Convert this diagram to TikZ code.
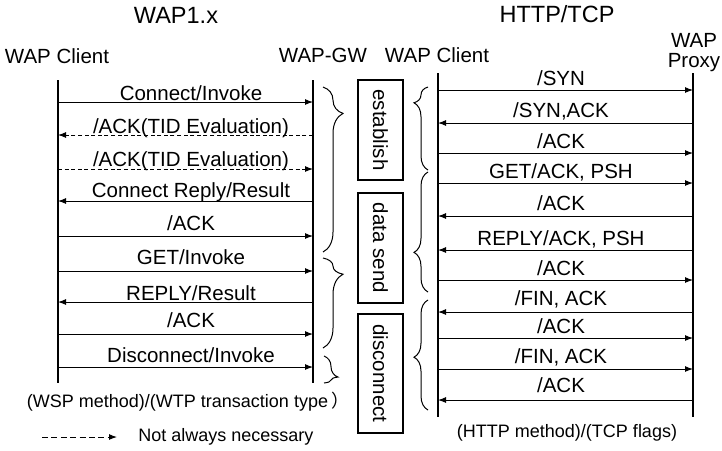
\documentclass[tikz,border=0pt]{standalone}
\usepackage{fontspec}
\setmainfont{Liberation Sans}
\newfontfamily\cjk{Noto Sans CJK SC}
\usetikzlibrary{arrows.meta, positioning, decorations.pathreplacing}

\begin{document}
\begin{tikzpicture}[x=0.5pt, y=-0.5pt,
>={Latex[length=4pt,width=3pt]},
lifeline/.style={draw=black, line width=0.65pt},
msg/.style={->, line width=0.5pt},
optmsg/.style={->, line width=0.5pt, dash pattern=on 2pt off 1.3pt},
msglabel/.style={anchor=base, inner sep=0pt, font=\fontsize{10.25}{12}\selectfont},
notelabel/.style={anchor=base, inner sep=0pt, font=\fontsize{9}{11}\selectfont},
headlabel/.style={anchor=base, inner sep=0pt, font=\fontsize{10.25}{10}\selectfont, align=center},
titlelabel/.style={anchor=base, inner sep=0pt, font=\fontsize{11.75}{14}\selectfont},
phasebox/.style={rectangle, draw=black, line width=0.6pt, rotate=-90, inner sep=0pt, font=\fontsize{10.25}{12}\selectfont, minimum height=22.5pt},
phasebrace/.style={decorate, line width=0.5pt},
]
\useasboundingbox (0,0) rectangle (722,450);

%Titles
\node[titlelabel] (T1) at (176,23) {WAP1.x};
\node[titlelabel] (T2) at (557,22) {HTTP/TCP};
\node[headlabel] (HC1) at (57,63) {WAP Client};
\node[headlabel] (HGW) at (323,62) {WAP-GW};
\node[headlabel] (HC2) at (437,62) {WAP Client};
\node[headlabel] (HPX) at (694,67) {WAP\\Proxy};

%Lifelines
\coordinate (WCa) at (58,80);  \coordinate (WCaEnd) at (58,383);
\coordinate (GW) at (313,80);  \coordinate (GWEnd) at (313,383);
\coordinate (WCb) at (438,73); \coordinate (WCbEnd) at (438,417);
\coordinate (PX) at (693,73);  \coordinate (PXEnd) at (693,417);
\draw[lifeline] (WCa) -- (WCaEnd);
\draw[lifeline] (GW) -- (GWEnd);
\draw[lifeline] (WCb) -- (WCbEnd);
\draw[lifeline] (PX) -- (PXEnd);

%WAP1.x messages
\foreach \y/\ly/\a/\b/\st/\lbl in {
  102/100/WCa/GW/msg/{Connect/Invoke},
  135/133/GW/WCa/optmsg/{/ACK(TID Evaluation)},
  169/166/WCa/GW/optmsg/{/ACK(TID Evaluation)},
  201/197/GW/WCa/msg/{Connect Reply/Result},
  236/230/WCa/GW/msg/{/ACK},
  271/264/WCa/GW/msg/{GET/Invoke},
  302/300/GW/WCa/msg/{REPLY/Result},
  334/327/WCa/GW/msg/{/ACK},
  367/362/WCa/GW/msg/{Disconnect/Invoke}}
  \draw[\st] (\a |- 0,\y) -- (\b |- 0,\y) node[msglabel] at (191,\ly) {\lbl};

%HTTP/TCP messages
\foreach \y/\ly/\a/\b/\st/\lbl in {
  90/85/WCb/PX/msg/{/SYN},
  123/117/PX/WCb/msg/{/SYN,ACK},
  153/148/WCb/PX/msg/{/ACK},
  183/178/WCb/PX/msg/{GET/ACK, PSH},
  216/210/PX/WCb/msg/{/ACK},
  250/245/PX/WCb/msg/{REPLY/ACK, PSH},
  280/275/WCb/PX/msg/{/ACK},
  312/305/PX/WCb/msg/{/FIN, ACK},
  338/333/WCb/PX/msg/{/ACK},
  369/363/WCb/PX/msg/{/FIN, ACK},
  400/392/PX/WCb/msg/{/ACK}}
  \draw[\st] (\a |- 0,\y) -- (\b |- 0,\y) node[msglabel] at (561,\ly) {\lbl};

%Phases
\node[phasebox, minimum width=50pt] (Est) at (380.5,130) {establish};
\node[phasebox, minimum width=55pt] (Dat) at (380.5,248) {data send};
\node[phasebox, minimum width=59.5pt] (Dis) at (380.5,373.5) {disconnect};

\draw[phasebrace, decoration={brace, amplitude=10pt, aspect=0.16}] (323,87) -- (323,252);
\draw[phasebrace, decoration={brace, amplitude=10pt, aspect=0.18}] (323,258) -- (323,348);
\draw[phasebrace, decoration={brace, amplitude=7pt, aspect=0.78}] (324,356) -- (324,383);
\draw[phasebrace, decoration={brace, amplitude=7pt, aspect=0.81}] (428,170) -- (428,87);
\draw[phasebrace, decoration={brace, amplitude=7pt, aspect=0.33}] (428,292) -- (428,172);
\draw[phasebrace, decoration={brace, amplitude=7pt, aspect=0.48}] (428,410) -- (428,300);

%Notes
\node[notelabel] (NoteL) at (188,407) {(WSP method)/(WTP transaction type\hspace{1.5pt}\cjk{）}};
\node[notelabel] (NoteR) at (567,437) {(HTTP method)/(TCP flags)};
\coordinate (LgA) at (42,437);
\coordinate (LgB) at (117,437);
\draw[optmsg, dash pattern=on 3pt off 1.7pt] (LgA) -- (LgB);
\node[notelabel, anchor=west, right=10.5pt of LgB] (LgText) {Not always necessary};

\end{tikzpicture}
\end{document}
